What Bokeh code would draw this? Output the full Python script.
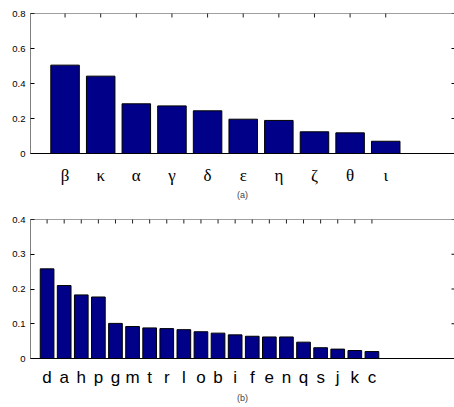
import math
from bokeh.plotting import figure
from bokeh.models import LinearAxis, FixedTicker, Range1d, Span
from bokeh.layouts import column
from bokeh.embed import file_html
from bokeh.resources import INLINE

# Panel (a)
greek_labels = ["β", "κ", "α", "γ", "δ", "ε", "η", "ζ", "θ", "ι"]
greek_values = [0.505, 0.442, 0.284, 0.272, 0.244, 0.196, 0.189, 0.124, 0.118, 0.070]
yticks_a = [0, 0.2, 0.4, 0.6, 0.8]

# Panel (b)
latin_labels = ["d", "a", "h", "p", "g", "m", "t", "r", "l", "o",
                "b", "i", "f", "e", "n", "q", "s", "j", "k", "c"]
latin_values = [0.258, 0.210, 0.183, 0.177, 0.101, 0.092, 0.088, 0.086, 0.083, 0.077,
                0.073, 0.068, 0.064, 0.062, 0.062, 0.047, 0.031, 0.027, 0.023, 0.020]
yticks_b = [0, 0.1, 0.2, 0.3, 0.4]

BAR = "#000088"


def make_panel(labels, values, yticks, ymax, xstart, xend, frame_h, top, bottom,
               label_font, label_size, caption, standoff, cap_standoff):
    n = len(labels)
    xs = list(range(1, n + 1))
    p = figure(frame_width=424, frame_height=frame_h,
               output_backend="svg", toolbar_location=None,
               x_range=Range1d(xstart, xend), y_range=Range1d(0, ymax),
               min_border_left=30, min_border_right=0,
               min_border_top=top, min_border_bottom=bottom,
               x_axis_location=None, y_axis_location=None)
    p.outline_line_color = None
    p.grid.visible = False
    p.background_fill_color = "white"
    p.vbar(x=xs, top=values, width=0.8, bottom=0,
           fill_color=BAR, line_color="black", line_width=1)

    # top border line with inward ticks at the categories
    p.add_layout(Span(location=ymax, dimension="width", line_color="#404040", line_width=1))
    p.scatter(x=xs, y=[ymax] * n, marker="dash", angle=math.pi / 2, size=8,
              line_color="#202020", line_width=1)
    # right-side inward ticks
    p.scatter(x=[xend] * len(yticks), y=yticks, marker="dash", size=6,
              line_color="black", line_width=1)

    # bottom axis: labels only
    xb = LinearAxis(ticker=FixedTicker(ticks=xs),
                    major_label_overrides={i: l for i, l in zip(xs, labels)})
    xb.major_tick_line_color = None
    xb.minor_tick_line_color = None
    xb.major_tick_out = 0
    xb.major_tick_in = 0
    xb.axis_line_color = "black"
    xb.major_label_text_font = label_font
    xb.major_label_text_font_size = label_size
    xb.major_label_text_color = "black"
    xb.major_label_standoff = standoff
    xb.axis_label = caption
    xb.axis_label_text_font = "Liberation Sans"
    xb.axis_label_text_font_size = "9px"
    xb.axis_label_text_font_style = "normal"
    xb.axis_label_standoff = cap_standoff
    p.add_layout(xb, "below")

    # left axis
    yl = LinearAxis(ticker=FixedTicker(ticks=yticks), major_label_overrides={0: "0"})
    yl.major_tick_in = 4
    yl.major_tick_out = 0
    yl.minor_tick_line_color = None
    yl.axis_line_color = "#808080"
    yl.major_tick_line_color = "black"
    yl.major_label_text_font = "Liberation Sans"
    yl.major_label_text_font_size = "9.5px"
    yl.major_label_text_color = "black"
    yl.major_label_standoff = 5
    p.add_layout(yl, "left")
    return p


pa = make_panel(greek_labels, greek_values, yticks_a, 0.8, 0.03, 11.93, 140, 13, 55,
                "Liberation Serif", "17px", "(a)", 12, 2)
pb = make_panel(latin_labels, latin_values, yticks_b, 0.4, 0.03, 24.83, 139, 11, 46,
                "Liberation Sans", "17px", "(b)", 9, 3)

layout = column(pa, pb, spacing=0)
open("out.html", "w").write(file_html(layout, INLINE))
